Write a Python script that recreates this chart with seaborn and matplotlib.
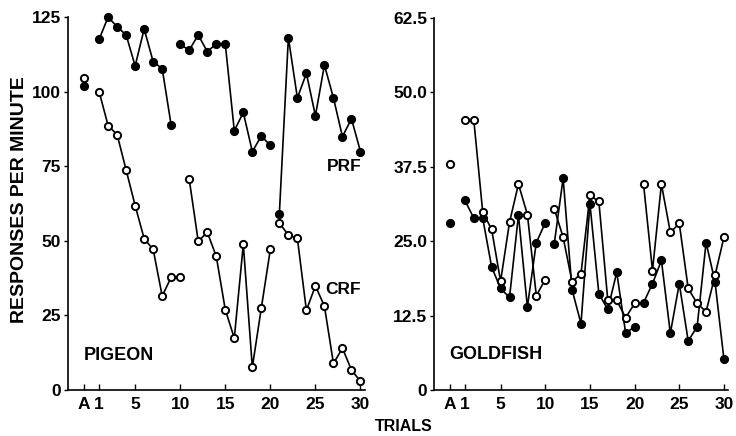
import pandas as pd
import seaborn as sns
from matplotlib import pyplot as plt

# position of the "A" (adaptation) trial on the x axis
a_pos = -0.7

# pigeon, responses per minute
pigeon_a_prf = 102.0
pigeon_a_crf = 104.5
pigeon_prf_1 = [117.5, 125, 121.7, 119, 108.6, 121, 110, 107.7, 88.7]              # trials 1-9
pigeon_prf_2 = [115.8, 113.9, 119, 113.4, 116, 116, 86.9, 93, 79.9, 85.1, 82]      # trials 10-20
pigeon_prf_3 = [59.1, 118.1, 97.9, 106.1, 91.9, 108.9, 97.9, 84.9, 90.9, 79.9]     # trials 21-30
pigeon_crf_1 = [100, 88.6, 85.6, 73.7, 61.8, 50.7, 47.1, 31.5, 37.8, 37.8]         # trials 1-10
pigeon_crf_2 = [70.6, 49.8, 52.9, 44.8, 26.9, 17.4, 48.8, 7.6, 27.5, 47.1]         # trials 11-20
pigeon_crf_3 = [56.0, 51.9, 50.8, 26.7, 34.9, 28.1, 8.9, 14.0, 6.7, 2.9]           # trials 21-30

# goldfish
fish_a_prf = 28.0
fish_a_crf = 37.9
fish_prf_1 = [31.9, 28.9, 28.9, 20.7, 17.1, 15.6, 29.4, 14.0, 24.8, 28.1]
fish_prf_2 = [24.5, 35.6, 16.9, 11.2, 31.3, 16.2, 13.6, 19.8, 9.6, 10.7]
fish_prf_3 = [14.7, 17.9, 21.8, 9.6, 17.9, 8.3, 10.7, 24.8, 18.2, 5.2]
fish_crf_1 = [45.4, 45.4, 29.9, 27.0, 18.3, 28.2, 34.6, 29.5, 15.9, 18.6]
fish_crf_2 = [30.5, 25.7, 18.2, 19.6, 32.7, 31.7, 15.1, 15.1, 12.2, 14.6]
fish_crf_3 = [34.6, 20.1, 34.6, 26.5, 28.0, 17.1, 14.6, 13.2, 19.3, 25.7]

xtick_pos = [a_pos, 1, 5, 10, 15, 20, 25, 30]
xtick_lab = ["A", "1", "5", "10", "15", "20", "25", "30"]


def make_df(segments):
    rows = []
    for seg, (series, start, vals) in enumerate(segments):
        for i, v in enumerate(vals):
            rows.append({"trial": start + i, "rate": v, "series": series, "seg": seg})
    return pd.DataFrame(rows)


pigeon = make_df([("PRF", a_pos, [pigeon_a_prf]), ("CRF", a_pos, [pigeon_a_crf]),
                  ("PRF", 1, pigeon_prf_1), ("PRF", 10, pigeon_prf_2), ("PRF", 21, pigeon_prf_3),
                  ("CRF", 1, pigeon_crf_1), ("CRF", 11, pigeon_crf_2), ("CRF", 21, pigeon_crf_3)])
fish = make_df([("PRF", a_pos, [fish_a_prf]), ("CRF", a_pos, [fish_a_crf]),
                ("PRF", 1, fish_prf_1), ("PRF", 11, fish_prf_2), ("PRF", 21, fish_prf_3),
                ("CRF", 1, fish_crf_1), ("CRF", 11, fish_crf_2), ("CRF", 21, fish_crf_3)])

sns.set_style("ticks")
plt.rcParams['font.family'] = ['Liberation Sans', 'DejaVu Sans']
plt.rcParams['font.weight'] = 'bold'
for k in ['text.color', 'axes.labelcolor', 'xtick.color', 'ytick.color', 'axes.edgecolor']:
    plt.rcParams[k] = 'black'

fig = plt.figure(figsize=(7.36, 4.36), dpi=100)
ax1 = fig.add_axes([0.0924, 0.1055, 0.4035, 0.8555])
ax2 = fig.add_axes([0.5897, 0.1044, 0.400, 0.855])


def draw(ax, df):
    for seg, d in df.groupby("seg"):
        face = "black" if d["series"].iloc[0] == "PRF" else "white"
        sns.lineplot(data=d, x="trial", y="rate", ax=ax, estimator=None, sort=False,
                     color="black", lw=1.2, marker="o", markersize=5.2,
                     markerfacecolor=face, markeredgecolor="black", markeredgewidth=1.4,
                     clip_on=False, zorder=3)
    ax.set_xlim(-2.45, 30.5)
    ax.set_xticks(xtick_pos)
    ax.set_xticklabels(xtick_lab)
    ax.set_xlabel("")
    ax.set_ylabel("")
    for s in ["top", "right"]:
        ax.spines[s].set_visible(False)
    for s in ["left", "bottom"]:
        ax.spines[s].set_linewidth(1.2)
    ax.tick_params(axis="x", direction="in", length=4, width=1, labelsize=12.5, pad=5)
    ax.tick_params(axis="y", direction="out", length=3, width=1, labelsize=12.5, pad=2)
    for t in ax.get_xticklabels() + ax.get_yticklabels():
        t.set_fontweight("bold")


draw(ax1, pigeon)
ax1.set_ylim(0, 125)
ax1.set_yticks([0, 25, 50, 75, 100, 125])
ax1.set_yticklabels(["0", "25", "50", "75", "100", "125"], fontweight="bold")
ax1.text(28.2, 74.8, "PRF", fontsize=12.5, fontweight="bold", ha="center", va="center")
ax1.text(28.1, 33.7, "CRF", fontsize=12.5, fontweight="bold", ha="center", va="center")
ax1.text(-0.75, 11.7, "PIGEON", fontsize=13, fontweight="bold", ha="left", va="center")

draw(ax2, fish)
ax2.set_ylim(0, 62.5)
ax2.set_yticks([0, 12.5, 25, 37.5, 50, 62.5])
ax2.set_yticklabels(["0", "12.5", "25.0", "37.5", "50.0", "62.5"], fontweight="bold")
ax2.text(-0.76, 6.1, "GOLDFISH", fontsize=13, fontweight="bold", ha="left", va="center")

fig.text(20 / 736, 1 - 200 / 436, "RESPONSES PER MINUTE", rotation=90, fontsize=14,
         fontweight="bold", ha="center", va="center")
fig.text(404 / 736, 1 - 426 / 436, "TRIALS", fontsize=11.5, fontweight="bold",
         ha="center", va="center")

fig.savefig("out.png", dpi=100)
